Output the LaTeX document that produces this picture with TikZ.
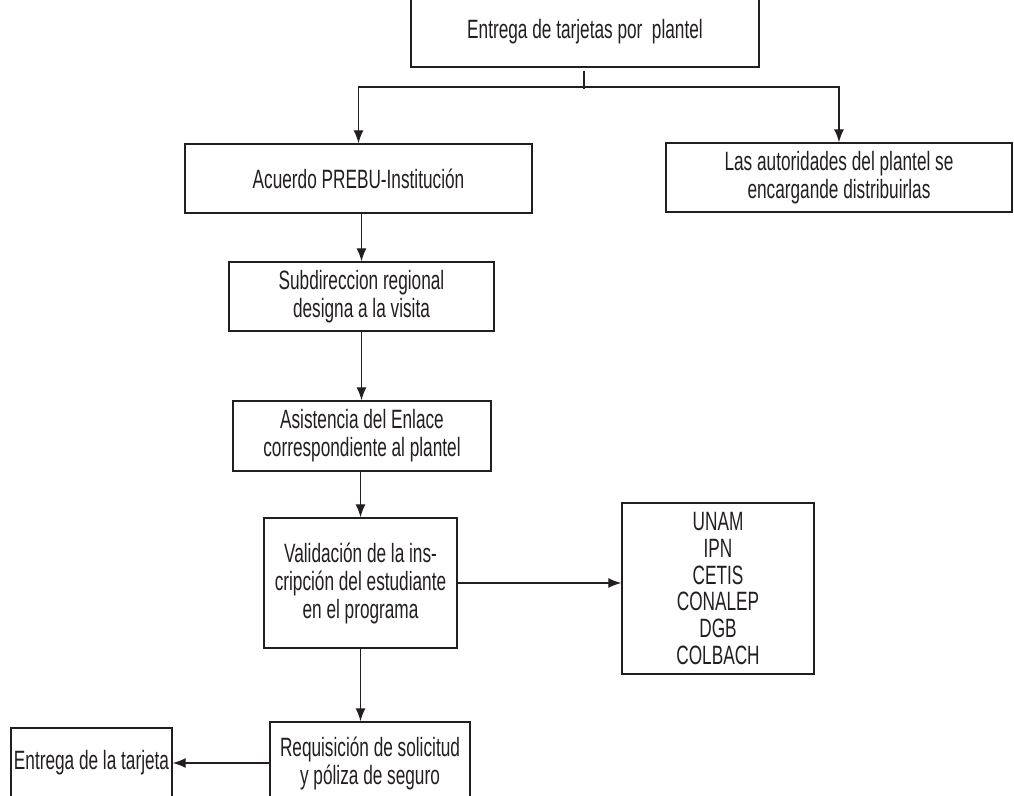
\documentclass[tikz,border=0pt]{standalone}
\usepackage{fontspec}
\setmainfont{Liberation Sans}[FakeStretch=0.65]
\usetikzlibrary{arrows.meta}
\definecolor{ink}{HTML}{231F20}
\begin{document}
\begin{tikzpicture}[x=1pt,y=-1pt,
  box/.style={draw=ink,line width=1.4pt,rectangle,inner sep=0pt,align=center,text=ink,
    font=\fontsize{26.5}{28}\selectfont},
  conn/.style={draw=ink,line width=1.3pt},
  arr/.style={conn,-{Latex[length=13pt,width=10pt]}}]
\useasboundingbox (0,0) rectangle (1014,795);
\clip (0,0) rectangle (1014,795);
\fill[white] (0,0) rectangle (1014,795);
% nodes
\node[box,minimum width=348pt,minimum height=70pt] (top) at (585,32) {Entrega de tarjetas por \ plantel};
\node[box,minimum width=347pt,minimum height=69pt] (acuerdo) at (358.5,178.5) {Acuerdo PREBU-Institución};
\node[box,minimum width=346pt,minimum height=69pt] (aut) at (839,177.5) {Las autoridades del plantel se\\encargande distribuirlas};
\node[box,minimum width=265pt,minimum height=69pt] (sub) at (361.5,296.5) {Subdireccion regional\\designa a la visita};
\node[box,minimum width=258pt,minimum height=70pt] (asis) at (362,436) {Asistencia del Enlace\\correspondiente al plantel};
\node[box,minimum width=193pt,minimum height=130pt] (val) at (360.5,583) {Validación de la ins-\\cripción del estudiante\\en el programa};
\node[box,minimum width=192pt,minimum height=171pt,font=\fontsize{26.5}{26.7}\selectfont] (unam) at (718,588.5) {UNAM\\IPN\\CETIS\\CONALEP\\DGB\\COLBACH};
\node[box,minimum width=200pt,minimum height=82pt] (req) at (370,763) {Requisición de solicitud\\y póliza de seguro};
\node[box,minimum width=161pt,minimum height=70pt] (ent) at (91.5,763) {Entrega de la tarjeta};
% connectors
\coordinate (split) at (584,87);
\draw[conn] ([yshift=-3pt]top.south -| split) -- ([yshift=-2pt]split);
\draw[arr] (split) -| (acuerdo.north);
\draw[arr] (split) -| (aut.north);
\draw[arr] (sub.north |- acuerdo.south) -- (sub.north);
\draw[arr] (sub.south) -- (sub.south |- asis.north);
\draw[arr] (val.north |- asis.south) -- (val.north);
\draw[arr] (val.east) -- (unam.west |- val.east);
\draw[arr] (val.south) -- (val.south |- req.north);
\draw[arr] (req.west) -- (ent.east);
\end{tikzpicture}
\end{document}
